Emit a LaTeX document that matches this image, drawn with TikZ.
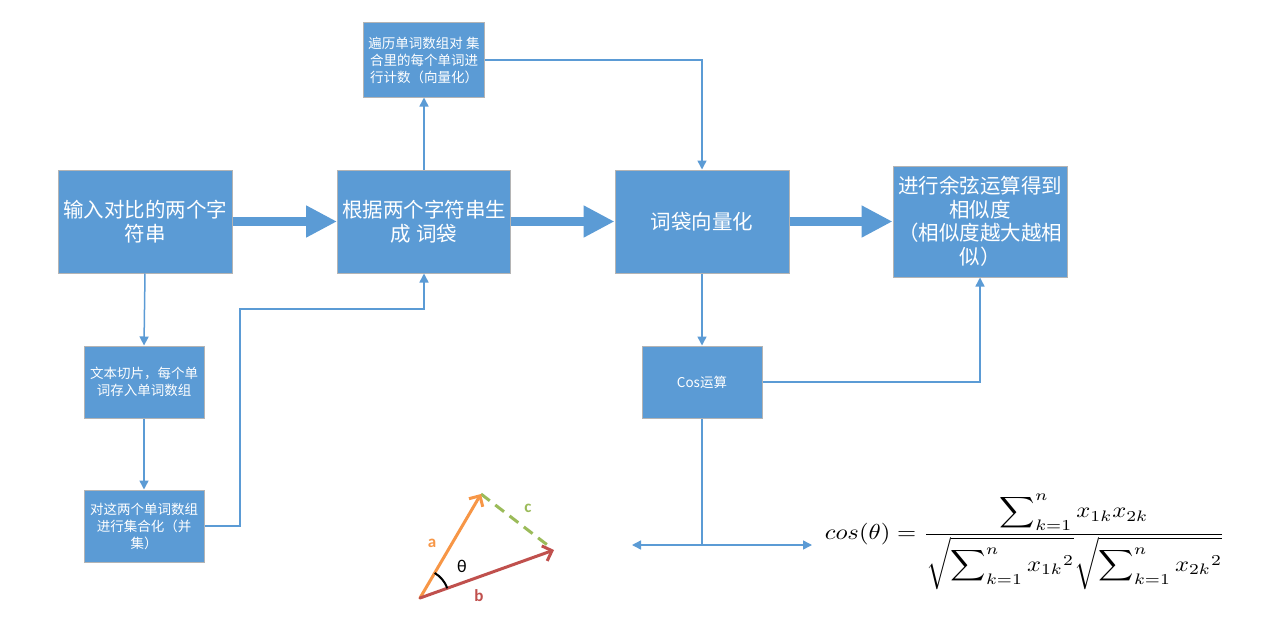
\documentclass[tikz,border=0pt]{standalone}
\usepackage{fontspec}
\usepackage{graphicx}
\newfontfamily\cjk{Noto Sans CJK SC}
\newfontfamily\lab{Carlito}
\usetikzlibrary{arrows.meta}
\definecolor{boxblue}{HTML}{5B9BD5}
\definecolor{boxborder}{HTML}{B4B4B4}
\definecolor{lineblue}{HTML}{5B9BD5}
\definecolor{vorange}{HTML}{F79646}
\definecolor{vred}{HTML}{C0504D}
\definecolor{vgreen}{HTML}{9BBB59}
\begin{document}
\begin{tikzpicture}[x=1pt,y=-1pt,
  box/.style={draw=boxborder, line width=1pt, fill=boxblue, text=white, align=center, inner sep=0pt,
    font=\cjk\fontsize{20.5}{23.5}\selectfont},
  smallbox/.style={box, font=\cjk\fontsize{13.5}{17}\selectfont},
  thinarrow/.style={draw=lineblue, line width=1.5pt, -{Triangle[length=9pt,width=9pt]}},
  thinline/.style={draw=lineblue, line width=1.5pt},
  thickarrow/.style={draw=lineblue, line width=9pt, -{Triangle[length=31pt,width=30pt]}},
  vlabel/.style={font=\lab\bfseries\fontsize{17}{20}\selectfont}
]
\useasboundingbox[fill=white] (0,0) rectangle (1263,634);

\node[box, minimum width=174pt, minimum height=103pt] (A) at (145,221.5) {输入对比的两个字\\符串};
\node[box, minimum width=173pt, minimum height=103pt] (B) at (424,221.5) {根据两个字符串生\\成 词袋};
\node[box, minimum width=174pt, minimum height=103pt] (C) at (702,221.5) {词袋向量化};
\node[box, minimum width=174pt, minimum height=111pt] (D) at (980,221.5) {进行余弦运算得到\\相似度\\ （相似度越大越相\\似）};
\node[smallbox, minimum width=121pt, minimum height=74pt] (E) at (424,60) {遍历单词数组对 集\\合里的每个单词进\\行计数（向量化）};
\node[smallbox, minimum width=120pt, minimum height=72pt] (F) at (144,382) {文本切片，每个单\\词存入单词数组};
\node[smallbox, minimum width=120pt, minimum height=72pt] (G) at (144,526) {对这两个单词数组\\进行集合化（并\\集）};
\node[smallbox, minimum width=120pt, minimum height=72pt] (H) at (702,382) {Cos运算};

\draw[thickarrow] (A.east) -- (B.west);
\draw[thickarrow] (B.east) -- (C.west);
\draw[thickarrow] (C.east) -- (D.west);

\coordinate (g1) at (240,309);
\coordinate (hb) at (702,545);
\coordinate (hl) at (632,545);
\coordinate (hr) at (812,545);

\draw[thinarrow] (B.north) -- (E.south);
\draw[thinarrow] (E.east) -| (C.north);
\draw[thinarrow] (A.south) -- (F.north);
\draw[thinarrow] (F.south) -- (G.north);
\draw[thinarrow] (G.east) -| (g1) -| (B.south);
\draw[thinarrow] (C.south) -- (H.north);
\draw[thinarrow] (H.east) -| (D.south);
\draw[thinline] (H.south) -- (hb);
\draw[thinarrow] (hb) -- (hl);
\draw[thinarrow] (hb) -- (hr);

\node[inner sep=0pt] (formula) at (1025,542) {\resizebox*{400pt}{96pt}{$\displaystyle cos(\theta)=\frac{\displaystyle\sum\nolimits_{k=1}^{n}x_{1k}x_{2k}}{\displaystyle\sqrt{\sum\nolimits_{k=1}^{n}{x_{1k}}^2}\sqrt{\sum\nolimits_{k=1}^{n}{x_{2k}}^2}}$}};

% vector diagram
\coordinate (O) at (420,598);
\coordinate (Pa) at (481,494);
\coordinate (Pb) at (554,550);
\coordinate (Pc) at (550,547);
\draw[vgreen, line width=3pt, dash pattern=on 11pt off 7pt] (Pa) -- (Pc);
\draw[vorange, line width=3pt, line cap=round, -{Straight Barb[length=8pt,width=16pt]}] (O) -- (Pa);
\draw[vred, line width=3pt, line cap=round, -{Straight Barb[length=8pt,width=16pt]}] (O) -- (Pb);
\draw[black, line width=2pt] (O) ++(-19.7:29) arc[start angle=-19.7, end angle=-59.6, radius=29];
\node[vlabel, text=vorange] (la) at (432,543) {a};
\node[vlabel, text=vred] (lb) at (479,596) {b};
\node[vlabel, text=vgreen] (lc) at (528,508) {c};
\node[font=\lab\fontsize{18}{20}\selectfont] (lt) at (462,566) {θ};
\end{tikzpicture}
\end{document}
